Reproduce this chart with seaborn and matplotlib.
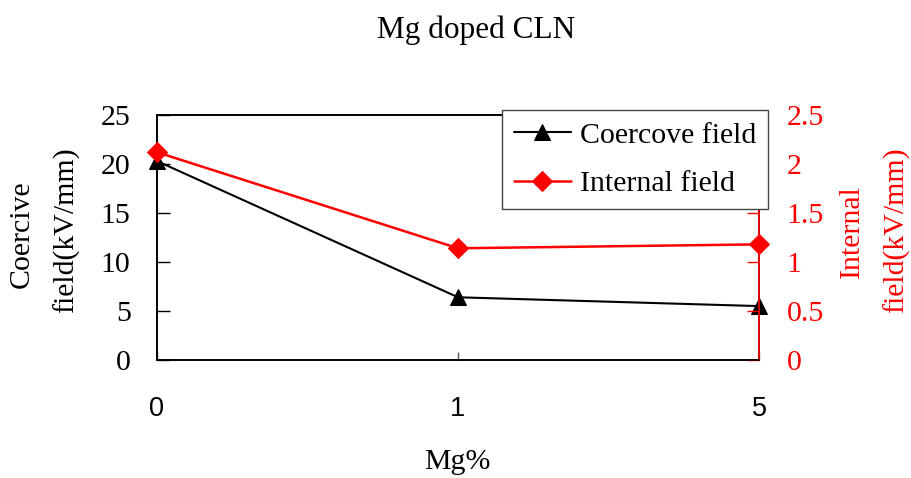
import matplotlib
matplotlib.use("Agg")
import matplotlib.pyplot as plt
import seaborn as sns
import pandas as pd

# Mg doping level (categorical) and measured fields
mg_labels = ["0", "1", "5"]
coercive_field = [20.3, 6.4, 5.5]      # kV/mm, left axis
internal_field = [2.12, 1.14, 1.18]    # kV/mm, right axis

sns.set_style("ticks")
plt.rcParams["font.family"] = ["Liberation Serif", "DejaVu Serif"]
plt.rcParams["text.color"] = "black"
plt.rcParams["xtick.color"] = "black"
plt.rcParams["ytick.color"] = "black"
plt.rcParams["axes.labelcolor"] = "black"

df = pd.DataFrame({
    "pos": range(len(mg_labels)),
    "Mg%": mg_labels,
    "coercive": coercive_field,
    "internal": internal_field,
})

FS = 21.5
RED = "#FF0000"
fig = plt.figure(figsize=(9.12, 4.78), dpi=100)
ax = fig.add_axes([157 / 912, 1 - 360 / 478, (759 - 157) / 912, (360 - 115) / 478])
ax2 = ax.twinx()

sns.lineplot(data=df, x="pos", y="coercive", ax=ax, color="black", lw=1.5,
             marker="^", markersize=12, markeredgecolor="black",
             label="Coercove field", legend=False, clip_on=False, zorder=3)
sns.lineplot(data=df, x="pos", y="internal", ax=ax2, color=RED, lw=1.8,
             marker="D", markersize=10, markeredgecolor=RED,
             label="Internal field", legend=False, clip_on=False, zorder=3)

# x axis: categories placed on tick marks
ax.set_xlim(0, len(mg_labels) - 1)
ax.set_xticks(df["pos"])
ax.set_xticklabels(mg_labels, fontfamily="Liberation Sans", fontsize=19.5, color="black")
ax.tick_params(axis="x", direction="in", length=6, width=1, pad=26, color="#555555")

# left axis
ax.set_ylim(0, 25)
ax.set_yticks([0, 5, 10, 15, 20, 25])
ax.set_yticklabels(["0", "5", "10", "15", "20", "25"], fontsize=FS, color="black")
ax.tick_params(axis="y", direction="in", length=9, width=1, pad=19, color="black")

# right axis
ax2.set_ylim(0, 2.5)
ax2.set_yticks([0, 0.5, 1, 1.5, 2, 2.5])
ax2.set_yticklabels(["0", "0.5", "1", "1.5", "2", "2.5"], fontsize=FS, color=RED)
ax2.tick_params(axis="y", direction="in", length=9, width=1, pad=20, color=RED)

for a in (ax, ax2):
    for s in a.spines.values():
        s.set_linewidth(1.2)
        s.set_color("black")
ax2.spines["right"].set_color(RED)

ax.set_xlabel("")
ax.set_ylabel("")
ax2.set_ylabel("")

# axis titles, one text per line
fig.text(22 / 912, 1 - 234 / 478, "Coercive", rotation=90,
         fontsize=FS, ha="center", va="center")
fig.text(66 / 912, 1 - 230 / 478, "field(kV/mm)", rotation=90,
         fontsize=FS, ha="center", va="center")
fig.text(852 / 912, 1 - 232 / 478, "Internal", rotation=90,
         fontsize=FS, ha="center", va="center", color=RED)
fig.text(896 / 912, 1 - 230 / 478, "field(kV/mm)", rotation=90,
         fontsize=FS, ha="center", va="center", color=RED)
fig.text(457 / 912, 1 - 462 / 478, "Mg%", fontsize=FS, ha="center", va="center")
fig.text(476 / 912, 1 - 30 / 478, "Mg doped CLN", fontsize=22.5, ha="center", va="center")

h1, l1 = ax.get_legend_handles_labels()
h2, l2 = ax2.get_legend_handles_labels()
leg = ax2.legend(h1 + h2, l1 + l2, loc="upper left",
                 bbox_to_anchor=(502 / 912, 1 - 110 / 478),
                 bbox_transform=fig.transFigure, borderaxespad=0,
                 fontsize=FS, frameon=True, fancybox=False, shadow=False,
                 handlelength=1.9, handletextpad=0.3, borderpad=0.4,
                 labelspacing=0.72)
leg.get_frame().set_edgecolor("#444444")
leg.get_frame().set_linewidth(1.0)
leg.get_frame().set_alpha(1)
for t in leg.get_texts():
    t.set_color("black")

fig.savefig("out.png", dpi=100)
